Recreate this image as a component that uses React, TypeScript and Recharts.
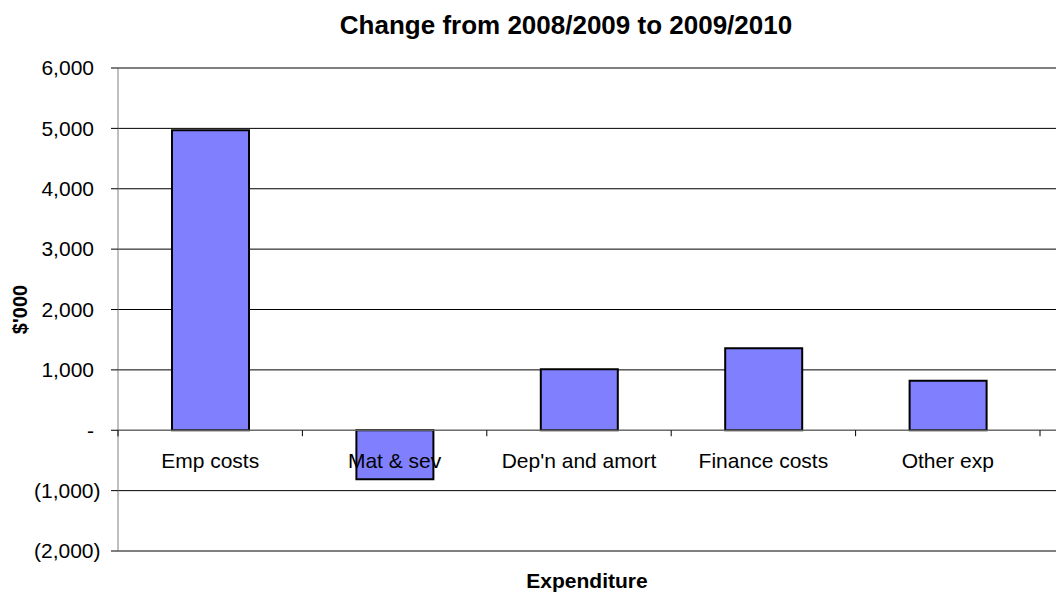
import React from "react";
import { BarChart, Bar, XAxis, YAxis, CartesianGrid, ReferenceLine } from "recharts";

const categories = ["Emp costs", "Mat & sev", "Dep'n and amort", "Finance costs", "Other exp"];
const changeValues = [4970, -810, 1010, 1360, 820];
const yTicks = [-2000, -1000, 0, 1000, 2000, 3000, 4000, 5000, 6000];
const Y_MIN = -2000;
const Y_MAX = 6000;

const data = categories.map((name, i) => ({ name, value: changeValues[i] }));

const W = 1056;
const H = 594;
const TOP = 68;
const X_AXIS_H = 43;
const PLOT_BOTTOM = H - X_AXIS_H;
const PLOT_H = PLOT_BOTTOM - TOP;
const ZERO_Y = TOP + (PLOT_H * (Y_MAX - 0)) / (Y_MAX - Y_MIN);
const FONT = "'Liberation Sans', Arial, sans-serif";

const fmt = (v: number) => {
  if (v === 0) return "-";
  const s = Math.abs(v).toLocaleString("en-US");
  return v < 0 ? `(${s})` : s;
};

const YTick = (props: any) => {
  const { x, y, payload } = props;
  const v = payload.value as number;
  return (
    <text x={x + (v < 0 ? 6.5 : 0)} y={y} dy="0.35em" textAnchor="end" fontSize={21} fontFamily={FONT} fill="#000">
      {fmt(v)}
    </text>
  );
};

const XTick = (props: any) => {
  const { x, payload, index } = props;
  const half = payload.offset || 92;
  const last = index === categories.length - 1;
  return (
    <g>
      <line x1={x - half} x2={x - half} y1={ZERO_Y} y2={ZERO_Y + 6} stroke="#000" strokeWidth={1} />
      {last && <line x1={x + half} x2={x + half} y1={ZERO_Y} y2={ZERO_Y + 6} stroke="#000" strokeWidth={1} />}
      <text x={x} y={ZERO_Y + 38} textAnchor="middle" fontSize={21} fontFamily={FONT} fill="#000">
        {payload.value}
      </text>
    </g>
  );
};

export default function App() {
  return (
    <div style={{ position: "relative", width: W, height: H, fontFamily: FONT }}>
      <style>{`body{margin:0}`}</style>
      <div
        style={{
          position: "absolute",
          left: 266,
          top: 12,
          width: 600,
          textAlign: "center",
          fontSize: 26,
          lineHeight: "26px",
          fontWeight: "bold",
          color: "#000",
          fontFamily: FONT,
        }}
      >
        Change from 2008/2009 to 2009/2010
      </div>
      <BarChart width={W} height={H} data={data} margin={{ top: TOP, right: 0, bottom: 0, left: 0 }}>
        <CartesianGrid vertical={false} stroke="#000" strokeWidth={1} />
        <XAxis
          dataKey="name"
          height={X_AXIS_H}
          axisLine={false}
          tickLine={false}
          interval={0}
          padding={{ left: 0, right: 16 }}
          tick={<XTick />}
          label={{
            value: "Expenditure",
            position: "insideBottom",
            offset: 6,
            style: { fontSize: 21, fontWeight: "bold", fontFamily: FONT, fill: "#000" },
          }}
        />
        <YAxis
          width={118}
          domain={[Y_MIN, Y_MAX]}
          ticks={yTicks}
          interval={0}
          tickSize={7}
          tickMargin={17}
          axisLine={{ stroke: "#808080" }}
          tickLine={{ stroke: "#000" }}
          tick={<YTick />}
          label={{
            value: "$'000",
            angle: -90,
            position: "insideLeft",
            offset: 20,
            style: { textAnchor: "middle", fontSize: 20, fontWeight: "bold", fontFamily: FONT, fill: "#000" },
          }}
        />
        <ReferenceLine y={0} stroke="#808080" strokeWidth={1} />
        <Bar dataKey="value" fill="#8080FF" stroke="#000" strokeWidth={2} barSize={77} isAnimationActive={false} />
      </BarChart>
    </div>
  );
}
